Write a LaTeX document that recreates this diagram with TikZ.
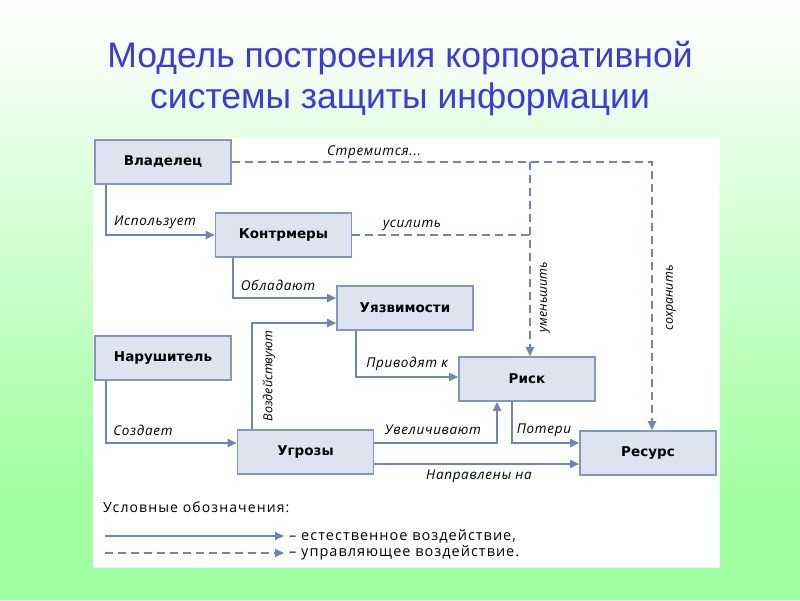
\documentclass[tikz,border=0pt]{standalone}
\usepackage{fontspec}
\setmainfont{Open Sans}
\newfontfamily\titlefont{Liberation Sans}
\newfontfamily\unitfont{DejaVu Sans}
\usetikzlibrary{arrows.meta}
\definecolor{boxfill}{RGB}{223,227,240}
\definecolor{boxline}{RGB}{132,151,189}
\definecolor{linkcol}{RGB}{112,133,176}
\definecolor{titleblue}{RGB}{58,58,228}
\definecolor{slidegreen}{RGB}{160,255,160}
\begin{document}
\begin{tikzpicture}[x=1pt, y=-1pt,
        unit/.style={draw=boxline, fill=boxfill, line width=1.6pt, minimum width=136pt,
            minimum height=44pt, inner sep=0pt, font=\unitfont\fontsize{13.5}{16}\selectfont\bfseries},
        link/.style={draw=linkcol, line width=1.8pt, -{Triangle[length=9pt,width=8pt]}},
        ctrl/.style={link, dash pattern=on 8pt off 5pt},
        lbl/.style={font=\fontsize{13.5}{15}\selectfont\itshape\addfontfeatures{LetterSpace=5}, inner sep=0pt},
        vlbl/.style={font=\fontsize{12.5}{14}\selectfont\itshape, inner sep=0pt, rotate=90},
        legend/.style={font=\fontsize{14}{16}\selectfont\addfontfeatures{LetterSpace=8}, anchor=west, inner sep=2pt},
        legentry/.style={legend, font=\fontsize{14.5}{17}\selectfont\addfontfeatures{LetterSpace=7}},
        heading/.style={font=\titlefont\fontsize{35.5}{40}\selectfont, text=titleblue, anchor=base}]
        \useasboundingbox (0, 0) rectangle (800, 600);
        \shade [top color=white, bottom color=slidegreen] (0, 0) rectangle (800, 500);
        \fill [slidegreen] (0, 500) rectangle (800, 600);
        \fill [white] (93, 138) rectangle (720, 568);
        \node [heading] (title1) at (400, 67) {Модель построения корпоративной};
        \node [heading] (title2) at (400, 108) {системы защиты информации};

        \node [unit] (vlad) at (163, 162) {Владелец};
        \node [unit] (kontr) at (283.5, 235) {Контрмеры};
        \node [unit] (uyazv) at (405, 308) {Уязвимости};
        \node [unit] (narush) at (163, 358) {Нарушитель};
        \node [unit] (ugroz) at (305.5, 452) {Угрозы};
        \node [unit] (risk) at (527, 379) {Риск};
        \node [unit] (resurs) at (648, 453) {Ресурс};

        \draw [link] ([xshift=12pt]vlad.south west) |- (kontr.west);
        \draw [link] ([xshift=18pt]kontr.south west) |- ([yshift=10pt]uyazv.west);
        \draw [link] ([xshift=15pt]ugroz.north west) |- ([yshift=-15pt]uyazv.west);
        \draw [link] ([xshift=20pt]uyazv.south west) |- ([yshift=2pt]risk.west);
        \draw [link] ([xshift=12pt]narush.south west) |- ([yshift=9pt]ugroz.west);
        \draw [link] ([yshift=9pt]ugroz.east) -| ([xshift=-30pt]risk.south);
        \draw [link] ([xshift=-15pt]risk.south) |- ([yshift=10pt]resurs.west);
        \draw [link] ([yshift=-12pt]ugroz.east) -- ([yshift=-12pt]ugroz.east -| resurs.west);

        \coordinate (split) at ([xshift=3pt]risk.north |- vlad.east);
        \coordinate (turn) at ([xshift=4pt]resurs.north |- vlad.east);
        \draw [ctrl] (vlad.east) -- (turn) -- ([xshift=4pt]resurs.north);
        \draw [ctrl] (split) -- ([xshift=3pt]risk.north);
        \draw [ctrl, -] (kontr.east) -- (kontr.east -| split);

        \node [lbl] (lstrem) at (374, 152) {Стремится...};
        \node [lbl] (lisp) at (155, 222) {Использует};
        \node [lbl] (lusil) at (412, 225) {усилить};
        \node [lbl] (lobl) at (278, 285) {Обладают};
        \node [lbl] (lpriv) at (407, 364) {Приводят к};
        \node [lbl] (lsozd) at (143, 430) {Создает};
        \node [lbl] (luvel) at (433, 430) {Увеличивают};
        \node [lbl] (lpot) at (544, 430) {Потери};
        \node [lbl] (lnapr) at (479, 476) {Направлены на};
        \node [vlbl] (lvozd) at (269, 376) {Воздействуют};
        \node [vlbl] (lumen) at (545, 297) {уменьшить};
        \node [vlbl] (lsohr) at (671, 298) {сохранить};

        \node [legend] (legtitle) at (101, 507) {Условные обозначения:};
        \coordinate (solidfrom) at (105, 536);
        \coordinate (dashfrom) at (105, 553);
        \node [legentry] (legsolid) at (287, 536) {– естественное воздействие,};
        \node [legentry] (legdash) at (287, 553) {– управляющее воздействие.};
        \draw [link] (solidfrom) -- ([xshift=-3pt]legsolid.west);
        \draw [ctrl] (dashfrom) -- ([xshift=-3pt]legdash.west);
    \end{tikzpicture}
\end{document}
